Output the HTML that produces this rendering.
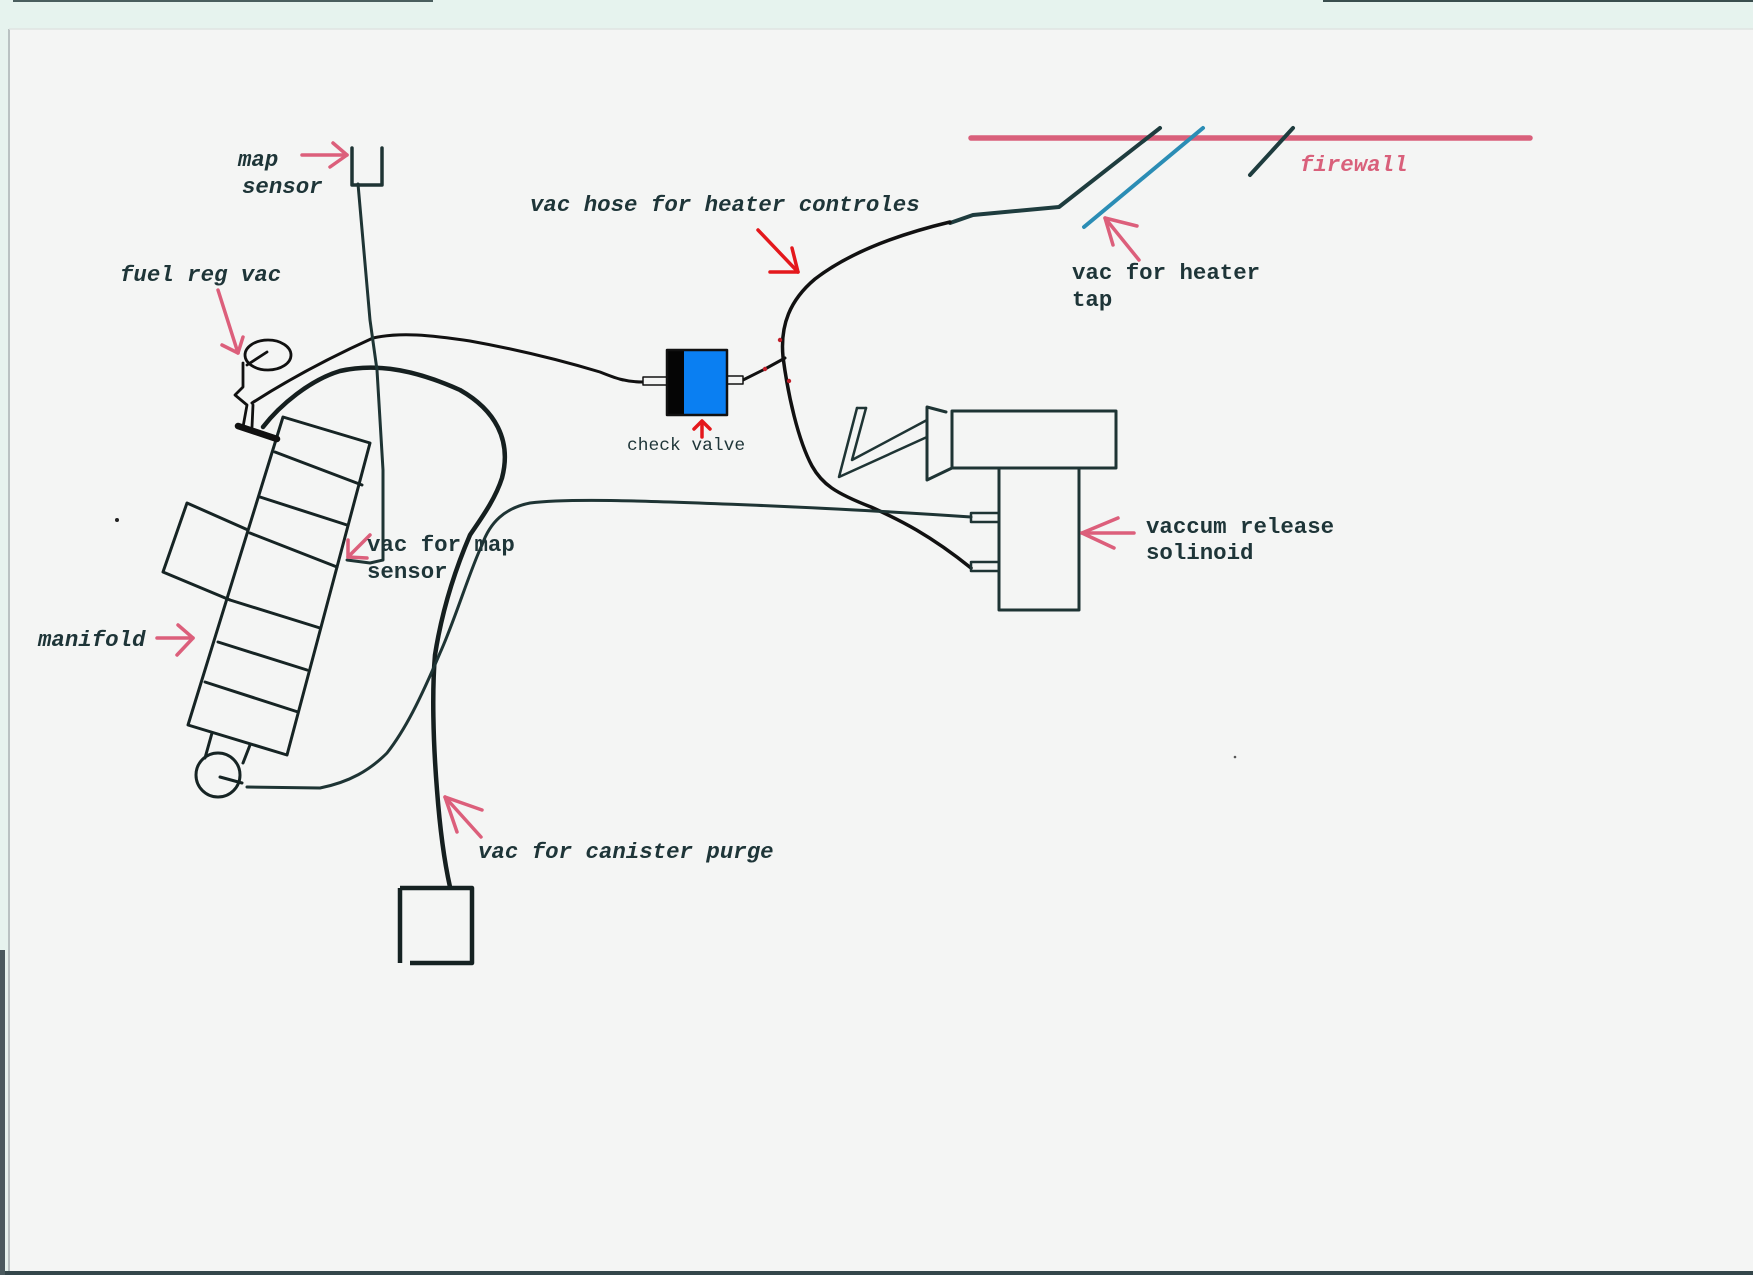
<!DOCTYPE html>
<html><head><meta charset="utf-8"><style>
html,body{margin:0;padding:0;width:1753px;height:1275px;overflow:hidden;background:#f4f5f4}
svg{display:block}
text{font-family:"Liberation Mono","DejaVu Sans Mono",monospace;font-weight:bold;fill:#1e3538;font-size:22.4px}
.it{font-style:italic}
</style></head><body>
<svg width="1753" height="1275" viewBox="0 0 1753 1275" xmlns="http://www.w3.org/2000/svg">
<rect x="0" y="0" width="1753" height="1275" fill="#f4f5f4"/>
<rect x="0" y="0" width="1753" height="29" fill="#e6f3ee"/>
<rect x="0" y="0" width="8" height="1275" fill="#e6f3ee"/>
<line x1="9" y1="29" x2="9" y2="1275" stroke="#b9c2c2" stroke-width="2"/>
<line x1="9" y1="29" x2="1753" y2="29" stroke="#dfe4e2" stroke-width="1.5"/>
<rect x="13" y="0" width="420" height="2" fill="#4a5e5e"/>
<rect x="1323" y="0" width="430" height="2" fill="#3a4e4e"/>
<rect x="0" y="1271" width="1753" height="4" fill="#34464a"/>
<rect x="0" y="950" width="5" height="325" fill="#4a5a5e"/>

<g fill="none" stroke-linecap="round" stroke-linejoin="round">
<!-- firewall -->
<line x1="971" y1="138" x2="1530" y2="138" stroke="#d9607b" stroke-width="5.5"/>
<polyline points="950,223 973,215 1059,207 1160,128" stroke="#1e3c3e" stroke-width="4"/>
<line x1="1084" y1="227" x2="1203" y2="128" stroke="#2b8db5" stroke-width="4"/>
<line x1="1250" y1="175" x2="1293" y2="128" stroke="#1e3c3e" stroke-width="4"/>

<!-- heater hose -->
<path d="M950,222 C900,234 850,252 815,279 C790,300 780,325 783,357 C788,395 798,440 812,466 C822,484 835,493 871,507 C900,520 930,535 971,568" stroke="#111" stroke-width="3.5"/>
<polyline points="743,380 765,369 785,358" stroke="#111" stroke-width="3"/>
<circle cx="780" cy="340" r="2.2" fill="#c0202a" stroke="none"/>
<circle cx="765" cy="369" r="2.2" fill="#c0202a" stroke="none"/>
<circle cx="789" cy="381" r="2.2" fill="#c0202a" stroke="none"/>

<!-- fuel reg upper hose to check valve -->
<path d="M252,403 C280,385 320,362 373,338 C400,332 430,335 470,341 C520,350 560,360 600,372 C615,378 625,382 643,382" stroke="#111" stroke-width="3"/>
<!-- thick hose to canister -->
<path d="M263,427 C280,405 310,380 340,371 C380,362 420,372 460,390 C495,410 512,440 502,478 C495,500 480,520 470,535 C455,570 442,610 435,655 C432,690 433,740 437,790 C440,830 444,860 450,887" stroke="#151f1f" stroke-width="4.5"/>
<!-- manifold bottom to solenoid -->
<path d="M247,787 L320,788 C350,782 370,770 387,753 C405,730 420,700 440,653 C455,620 470,570 482,545 C490,522 505,508 530,503 C570,498 650,501 750,505 C820,508 900,512 971,517" stroke="#1e3434" stroke-width="3"/>
<!-- map line -->
<polyline points="358,184 370,320 377,370 383,470 383,560 370,563 347,560" stroke="#1e3434" stroke-width="3"/>
<path d="M352,148 V185 H382 V148" stroke="#1e3434" stroke-width="3.5"/>

<!-- check valve -->
<rect x="643" y="377" width="24" height="8" stroke="#111" stroke-width="1.5" fill="#f4f5f4"/>
<rect x="726" y="376" width="17" height="8" stroke="#111" stroke-width="1.5" fill="#f4f5f4"/>
<rect x="667" y="350" width="17" height="65" fill="#050505" stroke="none"/>
<rect x="684" y="351" width="42" height="63" fill="#0a7ff2" stroke="none"/>
<rect x="667" y="350" width="60" height="65" stroke="#111" stroke-width="2.5"/>

<!-- solenoid -->
<polyline points="946,412 927,407 927,480 952,468" stroke="#1e3434" stroke-width="3"/>
<rect x="952" y="411" width="164" height="57" stroke="#1e3434" stroke-width="3"/>
<rect x="999" y="468" width="80" height="142" stroke="#1e3434" stroke-width="3"/>
<rect x="971" y="513" width="28" height="9" stroke="#1e3434" stroke-width="2.5"/>
<rect x="971" y="562" width="28" height="9" stroke="#1e3434" stroke-width="2.5"/>
<polyline points="866,408 852,460 927,420" stroke="#1e3434" stroke-width="2.5"/>
<polyline points="857,408 839,477 927,437" stroke="#1e3434" stroke-width="2.5"/>
<line x1="857" y1="408" x2="866" y2="408" stroke="#1e3434" stroke-width="2.5"/>

<!-- manifold -->
<g stroke="#162424" stroke-width="3">
<polygon points="283,417 370,443 287,755 188,725"/>
<line x1="275" y1="452" x2="362" y2="485"/>
<line x1="260" y1="497" x2="347" y2="525"/>
<line x1="250" y1="533" x2="337" y2="567"/>
<line x1="230" y1="600" x2="320" y2="628"/>
<line x1="218" y1="642" x2="307" y2="670"/>
<line x1="205" y1="682" x2="298" y2="712"/>
<polyline points="248,530 187,503 163,572 230,600"/>
<line x1="212" y1="733" x2="205" y2="758"/>
<line x1="250" y1="745" x2="243" y2="763"/>
<circle cx="218" cy="775" r="22"/>
<line x1="220" y1="777" x2="242" y2="783"/>
</g>

<!-- fuel reg -->
<g stroke="#111" stroke-width="2.8">
<ellipse cx="268" cy="355" rx="23" ry="15"/>
<line x1="247" y1="365" x2="267" y2="352"/>
<polyline points="243,363 243,387 235,395 247,405 243,427"/>
<line x1="253" y1="405" x2="252" y2="427"/>
</g>
<line x1="238" y1="426" x2="277" y2="439" stroke="#111" stroke-width="6.5"/>

<!-- canister -->
<path d="M400,888 V963 M410,963 H472 V888 H400" stroke="#152222" stroke-width="4.5" stroke-linecap="butt"/>

<!-- pink arrows -->
<g stroke="#dc5f7b" stroke-width="3.5">
<line x1="302" y1="155" x2="347" y2="155"/><polyline points="333,143 347,155 330,167"/>
<line x1="218" y1="290" x2="238" y2="353"/><polyline points="222,345 238,353 243,337"/>
<line x1="1105" y1="218" x2="1139" y2="260"/><polyline points="1137,226 1105,218 1113,245"/>
<line x1="1082" y1="533" x2="1134" y2="533"/><polyline points="1118,518 1082,533 1114,548"/>
<line x1="157" y1="638" x2="193" y2="638"/><polyline points="178,625 193,638 177,655"/>
<line x1="370" y1="535" x2="348" y2="557"/><polyline points="348,540 348,557 367,558"/>
<line x1="445" y1="797" x2="481" y2="837"/><polyline points="482,810 445,797 457,832"/>
</g>
<!-- red arrows -->
<g stroke="#e4181c" stroke-width="3.5">
<line x1="758" y1="230" x2="798" y2="272"/><polyline points="792,248 798,272 770,272"/>
<line x1="702" y1="437" x2="702" y2="422"/><polyline points="694,429 702,421 710,429"/>
</g>
</g>
<circle cx="117" cy="520" r="2" fill="#222"/>
<circle cx="1235" cy="757" r="1.3" fill="#555"/>

<!-- labels -->
<text x="238" y="166" class="it">map</text>
<text x="242" y="193" class="it">sensor</text>
<text x="120" y="281" class="it">fuel reg vac</text>
<text x="530" y="211" class="it">vac hose for heater controles</text>
<text x="1300" y="171" class="it" style="fill:#d9607b">firewall</text>
<text x="1072" y="279">vac for heater</text>
<text x="1072" y="306">tap</text>
<text x="627" y="450" style="font-weight:normal;font-size:17.9px">check valve</text>
<text x="367" y="551">vac for map</text>
<text x="367" y="578">sensor</text>
<text x="1146" y="533">vaccum release</text>
<text x="1146" y="559">solinoid</text>
<text x="38" y="646" class="it">manifold</text>
<text x="478" y="858" class="it">vac for canister purge</text>
</svg>
</body></html>
